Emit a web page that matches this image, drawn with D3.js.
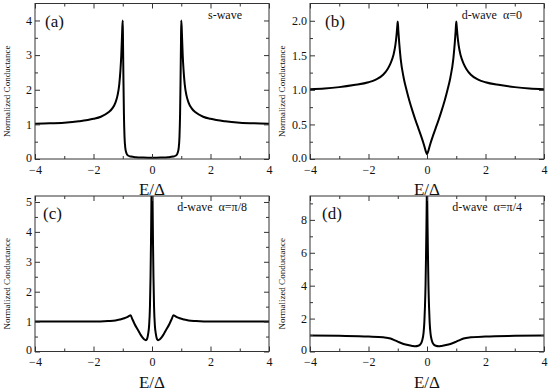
<!DOCTYPE html>
<html>
<head>
<meta charset="utf-8">
<script src="https://cdn.jsdelivr.net/npm/d3@7"></script>
<style>
  body { margin: 0; background: #fff; }
  svg { display: block; }
  text { font-family: "Liberation Serif", "Times New Roman", serif; fill: #111; }
  .title { white-space: pre; }
</style>
</head>
<body>
<svg id="chart" width="550" height="391"></svg>
<script>
// Tunneling conductance vs E/Delta, four panels (s-wave, d-wave at three angles)

// ---- data: [E/Delta, normalized conductance] ----
const sWave = [
  [-4.0, 1.02], [-3.5, 1.03], [-3.0, 1.05], [-2.5, 1.09], [-2.0, 1.16], [-1.75, 1.22],
  [-1.5, 1.34], [-1.35, 1.47], [-1.25, 1.63], [-1.18, 1.83], [-1.12, 2.15], [-1.08, 2.55],
  [-1.05, 3.0], [-1.03, 3.45], [-1.015, 3.8], [-1.0, 4.0], [-0.99, 3.3], [-0.975, 2.2],
  [-0.96, 1.3], [-0.94, 0.65], [-0.91, 0.3], [-0.87, 0.16], [-0.82, 0.1], [-0.72, 0.07],
  [-0.55, 0.05], [-0.3, 0.04], [0, 0.035],
  [0.3, 0.04], [0.55, 0.05], [0.72, 0.07], [0.82, 0.1], [0.87, 0.16], [0.91, 0.3],
  [0.94, 0.65], [0.96, 1.3], [0.975, 2.2], [0.99, 3.3], [1.0, 4.0], [1.015, 3.8],
  [1.03, 3.45], [1.05, 3.0], [1.08, 2.55], [1.12, 2.15], [1.18, 1.83], [1.25, 1.63],
  [1.35, 1.47], [1.5, 1.34], [1.75, 1.22], [2.0, 1.16], [2.5, 1.09], [3.0, 1.05],
  [3.5, 1.03], [4.0, 1.02]
];

const dWave0 = [
  [-4.0, 1.01], [-3.5, 1.02], [-3.0, 1.04], [-2.5, 1.07], [-2.0, 1.11], [-1.75, 1.15],
  [-1.5, 1.22], [-1.35, 1.3], [-1.25, 1.38], [-1.15, 1.5], [-1.08, 1.65], [-1.04, 1.8],
  [-1.01, 1.95], [-1.0, 1.99], [-0.98, 1.86], [-0.95, 1.68], [-0.9, 1.45], [-0.8, 1.18],
  [-0.7, 1.0], [-0.6, 0.84], [-0.5, 0.7], [-0.4, 0.57], [-0.3, 0.45], [-0.2, 0.33],
  [-0.1, 0.2], [-0.04, 0.11], [0, 0.07],
  [0.04, 0.11], [0.1, 0.2], [0.2, 0.33], [0.3, 0.45], [0.4, 0.57], [0.5, 0.7],
  [0.6, 0.84], [0.7, 1.0], [0.8, 1.18], [0.9, 1.45], [0.95, 1.68], [0.98, 1.86],
  [1.0, 1.99], [1.01, 1.95], [1.04, 1.8], [1.08, 1.65], [1.15, 1.5], [1.25, 1.38],
  [1.35, 1.3], [1.5, 1.22], [1.75, 1.15], [2.0, 1.11], [2.5, 1.07], [3.0, 1.04],
  [3.5, 1.02], [4.0, 1.01]
];

const dWavePi8 = [
  [-4.0, 1.0], [-3.0, 1.0], [-2.0, 1.0], [-1.5, 1.02], [-1.25, 1.04], [-1.1, 1.07],
  [-0.95, 1.11], [-0.85, 1.15], [-0.78, 1.19], [-0.73, 1.21], [-0.68, 1.1], [-0.6, 0.93],
  [-0.5, 0.75], [-0.4, 0.58], [-0.32, 0.46], [-0.26, 0.4], [-0.21, 0.38], [-0.17, 0.42],
  [-0.13, 0.6], [-0.1, 0.85], [-0.07, 1.5], [-0.05, 2.5], [-0.035, 3.6], [-0.02, 5.0],
  [0, 6.5],
  [0.02, 5.0], [0.035, 3.6], [0.05, 2.5], [0.07, 1.5], [0.1, 0.85], [0.13, 0.6],
  [0.17, 0.42], [0.21, 0.38], [0.26, 0.4], [0.32, 0.46], [0.4, 0.58], [0.5, 0.75],
  [0.6, 0.93], [0.68, 1.1], [0.73, 1.21], [0.78, 1.19], [0.85, 1.15], [0.95, 1.11],
  [1.1, 1.07], [1.25, 1.04], [1.5, 1.02], [2.0, 1.0], [3.0, 1.0], [4.0, 1.0]
];

const dWavePi4 = [
  [-4.0, 0.97], [-3.0, 0.95], [-2.0, 0.91], [-1.5, 0.86], [-1.25, 0.79], [-1.1, 0.68],
  [-0.95, 0.56], [-0.8, 0.46], [-0.65, 0.39], [-0.5, 0.34], [-0.4, 0.32], [-0.3, 0.35],
  [-0.22, 0.45], [-0.16, 0.7], [-0.12, 1.1], [-0.09, 1.8], [-0.07, 2.7], [-0.05, 4.0],
  [-0.035, 5.6], [-0.02, 7.5], [-0.01, 9.0], [0, 10.5],
  [0.01, 9.0], [0.02, 7.5], [0.035, 5.6], [0.05, 4.0], [0.07, 2.7], [0.09, 1.8],
  [0.12, 1.1], [0.16, 0.7], [0.22, 0.45], [0.3, 0.35], [0.4, 0.32], [0.5, 0.34],
  [0.65, 0.39], [0.8, 0.46], [0.95, 0.56], [1.1, 0.68], [1.25, 0.79], [1.5, 0.86],
  [2.0, 0.91], [3.0, 0.95], [4.0, 0.97]
];

// ---- ticks ----
const xMajor = [-4, -2, 0, 2, 4];
const xMinor = [-3, -1, 1, 3];
const yMajorA = [0, 1, 2, 3, 4];
const yMinorA = [0.5, 1.5, 2.5, 3.5];
const yMajorB = [0, 0.5, 1.0, 1.5, 2.0];
const yMinorB = [0.25, 0.75, 1.25, 1.75];
const yMajorC = [0, 1, 2, 3, 4, 5];
const yMinorC = [0.5, 1.5, 2.5, 3.5, 4.5];
const yMajorD = [0, 2, 4, 6, 8];
const yMinorD = [1, 3, 5, 7, 9];

const panelLabels = ["(a)", "(b)", "(c)", "(d)"];
const panelTitles = ["s-wave", "d-wave  \u03b1=0", "d-wave  \u03b1=\u03c0/8", "d-wave  \u03b1=\u03c0/4"];
const xTitle = "E/\u0394";
const yTitle = "Normalized Conductance";

// ---- layout ----
const svg = d3.select("#chart");
const panelW = 234;
const serif = "'Liberation Serif', 'Times New Roman', serif";

const panels = [
  { data: sWave,    left: 35,  top: 3.5, bottom: 159,   yMax: 4.49, yMajor: yMajorA, yMinor: yMinorA, fmt: d3.format("d"),   labDx: 10, titleDx: 27 },
  { data: dWave0,   left: 310, top: 3.5, bottom: 159,   yMax: 2.25, yMajor: yMajorB, yMinor: yMinorB, fmt: d3.format(".1f"), labDx: 15, titleDx: 22 },
  { data: dWavePi8, left: 35,  top: 196, bottom: 351.5, yMax: 5.2,  yMajor: yMajorC, yMinor: yMinorC, fmt: d3.format("d"),   labDx: 8,  titleDx: 22 },
  { data: dWavePi4, left: 310, top: 196, bottom: 351.5, yMax: 9.45, yMajor: yMajorD, yMinor: yMinorD, fmt: d3.format("d"),   labDx: 12, titleDx: 22 }
];

function styleAxis(sel) {
  sel.attr("font-family", serif).attr("font-size", 12);
  sel.select(".domain").remove();
  sel.selectAll("line").attr("stroke", "#333");
  sel.selectAll("text").attr("fill", "#111");
}

panels.forEach((p, i) => {
  const h = p.bottom - p.top;
  const g = svg.append("g").attr("transform", `translate(${p.left},${p.top})`);

  const x = d3.scaleLinear().domain([-4, 4]).range([0, panelW]);
  const y = d3.scaleLinear().domain([0, p.yMax]).range([h, 0]);

  // clip so the zero-bias peaks are cut at the frame
  const clipId = "clip" + i;
  g.append("clipPath").attr("id", clipId)
    .append("rect").attr("width", panelW).attr("height", h);

  const line = d3.line()
    .x(d => x(d[0]))
    .y(d => y(d[1]))
    .curve(d3.curveMonotoneX);

  g.append("path")
    .datum(p.data)
    .attr("clip-path", `url(#${clipId})`)
    .attr("fill", "none")
    .attr("stroke", "#000")
    .attr("stroke-width", 2)
    .attr("stroke-linejoin", "round")
    .attr("d", line);

  // axes: inward ticks, mirrored on top/right
  g.append("g").attr("transform", `translate(0,${h})`)
    .call(d3.axisBottom(x).tickValues(xMajor).tickSize(-5).tickPadding(6))
    .call(styleAxis);
  g.append("g").attr("transform", `translate(0,${h})`)
    .call(d3.axisBottom(x).tickValues(xMinor).tickSize(-3).tickFormat(""))
    .call(styleAxis);
  g.append("g")
    .call(d3.axisTop(x).tickValues(xMajor).tickSize(-5).tickFormat(""))
    .call(styleAxis);
  g.append("g")
    .call(d3.axisTop(x).tickValues(xMinor).tickSize(-3).tickFormat(""))
    .call(styleAxis);

  const yAx = g.append("g")
    .call(d3.axisLeft(y).tickValues(p.yMajor).tickSize(-5).tickPadding(3).tickFormat(p.fmt))
    .call(styleAxis);
  // the lowest label sits a touch high, as in the original, to clear the x labels
  yAx.selectAll(".tick text").filter(d => d === 0).attr("dy", "0.2em");
  g.append("g")
    .call(d3.axisLeft(y).tickValues(p.yMinor).tickSize(-3).tickFormat(""))
    .call(styleAxis);
  g.append("g").attr("transform", `translate(${panelW},0)`)
    .call(d3.axisRight(y).tickValues(p.yMajor).tickSize(-5).tickFormat(""))
    .call(styleAxis);
  g.append("g").attr("transform", `translate(${panelW},0)`)
    .call(d3.axisRight(y).tickValues(p.yMinor).tickSize(-3).tickFormat(""))
    .call(styleAxis);

  // frame
  g.append("rect")
    .attr("width", panelW).attr("height", h)
    .attr("fill", "none").attr("stroke", "#333").attr("stroke-width", 1);

  // panel label and title
  g.append("text")
    .attr("x", p.labDx).attr("y", 23)
    .style("font-size", "17px")
    .text(panelLabels[i]);

  g.append("text")
    .attr("class", "title")
    .attr("x", panelW - p.titleDx).attr("y", 15)
    .attr("text-anchor", "end")
    .style("font-size", "12px")
    .text(panelTitles[i]);

  // axis titles
  g.append("text")
    .attr("x", panelW / 2).attr("y", h + 36)
    .attr("text-anchor", "middle")
    .style("font-size", "17px")
    .text(xTitle);

  g.append("text")
    .attr("transform", `translate(${-25},${h / 2 + 10}) rotate(-90)`)
    .attr("text-anchor", "middle")
    .style("font-size", "9px")
    .text(yTitle);
});
</script>
</body>
</html>
